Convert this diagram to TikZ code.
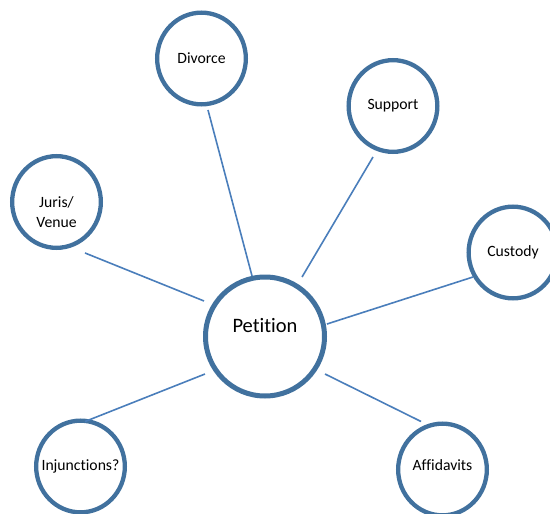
\documentclass[tikz,border=0pt]{standalone}
\usepackage{fontspec}
\setmainfont{Carlito}[Ligatures={NoCommon}]
\usepackage{tikz}
\usetikzlibrary{shapes.geometric}

\definecolor{ringblue}{RGB}{65,113,158}
\definecolor{lineblue}{RGB}{74,126,187}

\begin{document}
\begin{tikzpicture}[x=1pt,y=-1pt]
       \tikzstyle{bubble}=[ellipse, draw=ringblue, line width=4.3pt, fill=white,
         minimum width=88.7pt, minimum height=91.7pt, inner sep=0pt,
         font=\fontsize{15.7}{20}\selectfont]
       \tikzstyle{hub}=[circle, draw=ringblue, line width=5pt, fill=white,
         minimum size=119pt, inner sep=0pt, font=\fontsize{20.5}{24}\selectfont]
       \tikzstyle{link}=[draw=lineblue, line width=1.6pt]

       \clip (0,0) rectangle (550,514);

       \node[hub] (pet) at (265,336.5) {\raisebox{11pt}[\height][\depth]{Petition}};
       \node[bubble] (div) at (201.5,58.5) {Divorce};
       \node[bubble] (sup) at (393,106) {Support};
       \node[bubble] (jur) at (56.5,202)
         {\raisebox{-11pt}[\height][\depth]{\begin{tabular}{@{}c@{}}Juris/\\Venue\end{tabular}}};
       \node[bubble] (cus) at (513,252.5) {Custody};
       \node[bubble] (inj) at (80.5,466.5) {\makebox[0pt]{Injunctions?}};
       \node[bubble] (aff) at (442.5,469.5) {\raisebox{4pt}[\height][\depth]{\makebox[0pt]{Affidavits}}};

       \path[link]
       ([shift={(div)}]-82.8:51.9pt) edge ([shift={(pet)}]102.1:61.9pt)
       ([shift={(sup)}]248.6:54.8pt) edge ([shift={(pet)}]58.1:70.1pt)
       ([shift={(jur)}]-60.8:58.4pt) edge ([shift={(pet)}]149.8:70.6pt)
       ([shift={(cus)}]211.5:46.9pt) edge ([shift={(pet)}]11.4:63.2pt)
       ([shift={(inj)}]84.3:45.2pt)  edge ([shift={(pet)}]212:70.8pt)
       ([shift={(aff)}]114.1:52.6pt) edge ([shift={(pet)}]-32:70.8pt);
     \end{tikzpicture}
\end{document}
